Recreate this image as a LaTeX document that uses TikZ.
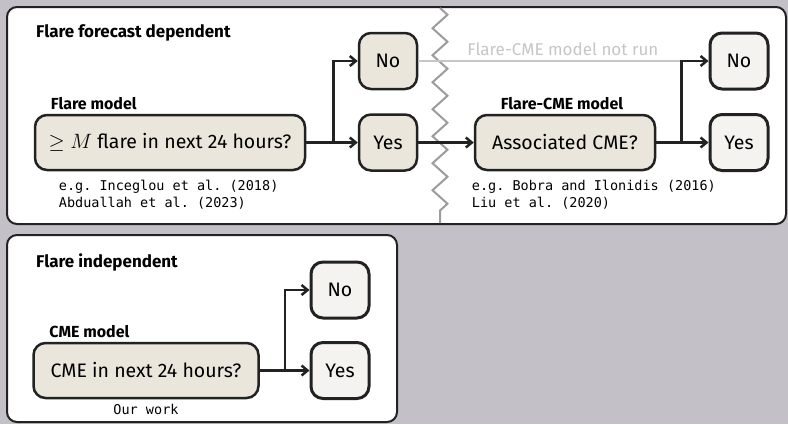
\documentclass[tikz,border=0pt]{standalone}
\usepackage{fontspec}
\setmainfont{Fira Sans}
\setmonofont{DejaVu Sans Mono}
\usepackage{tikz}
\usetikzlibrary{arrows.meta,positioning,calc,decorations.pathmorphing}
\definecolor{bggray}{HTML}{C3C0C8}
\definecolor{edgedark}{HTML}{222222}
\definecolor{modelfill}{HTML}{EAE6DC}
\definecolor{outfill}{HTML}{F4F3EF}
\definecolor{zigzaggray}{HTML}{9C9C9C}
\definecolor{notrungray}{HTML}{C6C6C6}
\begin{document}
\begin{tikzpicture}[
    x=1pt, y=-1pt,
    panel/.style={
        draw=edgedark,
        fill=white,
        rounded corners=10pt,
        line width=2pt
    },
    model/.style={
        rectangle,
        rounded corners=12pt,
        draw=edgedark,
        fill=modelfill,
        text centered,
        inner sep=0pt,
        minimum height=55pt,
        line width=2.5pt,
        font=\fontsize{19.5}{22}\selectfont
    },
    outcome/.style={
        rectangle,
        rounded corners=12pt,
        draw=edgedark,
        fill=modelfill,
        text centered,
        inner sep=0pt,
        minimum width=58pt,
        minimum height=56pt,
        line width=2.5pt,
        font=\fontsize{19.5}{22}\selectfont
    },
    final/.style={outcome, fill=outfill, line width=3pt},
    heading/.style={font=\fontsize{17}{20}\selectfont\bfseries, anchor=west, inner sep=0pt},
    modeltitle/.style={font=\fontsize{16}{19}\selectfont\bfseries, inner sep=0pt},
    refs/.style={font=\fontsize{13.5}{17}\selectfont\ttfamily, align=left, inner sep=0pt},
    arrow/.style={-{Straight Barb[length=6pt,width=10pt]}, line width=2.5pt, edgedark}
]

% === BACKGROUND ===
\fill[bggray] (0,0) rectangle (788,424);
\useasboundingbox (0,0) rectangle (788,424);

% === PANELS ===
\draw[panel] (7,7) rectangle (786,224);
\draw[panel] (7,235) rectangle (397,422);

% break between the two models
\draw[zigzaggray, line width=2pt, decorate,
      decoration={zigzag, segment length=27pt, amplitude=7.5pt}]
    (440,8) -- (440,223);

\node[heading] (dephead) at (36,33) {Flare forecast dependent};
\node[heading] (indhead) at (36,262) {Flare independent};

% === NODES (flare forecast dependent) ===

% Flare model
\node[model, minimum width=270pt] (flare) at (170,142.5) {$\geq M$ flare in next 24 hours?};
\node[modeltitle, anchor=south west] (flaretitle) at ([xshift=17pt, yshift=4pt]flare.north west) {Flare model};
\node[refs, anchor=north west] (flarerefs) at ([xshift=25pt, yshift=-9pt]flare.south west)
    {e.g. Inceglou et al. (2018)\\Abduallah et al. (2023)};

\node[outcome] (no1) at (388,61) {No};
\node[outcome] (yes1) at (388,142.5) {Yes};

% Flare-CME model
\node[model, minimum width=180pt] (flarecme) at (565,142.5) {Associated CME?};
\node[modeltitle, anchor=south] (flarecmetitle) at ([xshift=-3pt, yshift=4pt]flarecme.north) {Flare-CME model};
\node[refs, anchor=north west] (flarecmerefs) at ([xshift=-2pt, yshift=-9pt]flarecme.south west)
    {e.g. Bobra and Ilonidis (2016)\\Liu et al. (2020)};

\node[final] (no2) at (739,61) {No};
\node[final] (yes2) at (739,142.5) {Yes};

% === NODES (flare independent) ===
\node[model, minimum width=225pt] (cme) at (146,370.5) {CME in next 24 hours?};
\node[modeltitle, anchor=south west] (cmetitle) at ([xshift=17pt, yshift=4pt]cme.north west) {CME model};
\node[refs, anchor=north] (cmerefs) at ([yshift=-5pt]cme.south) {Our work};

\node[final] (no3) at (340,290) {No};
\node[final] (yes3) at (340,370.5) {Yes};

% branch points
\coordinate (split1) at ([xshift=27pt]flare.east);
\coordinate (split2) at ([xshift=25pt]flarecme.east);
\coordinate (split3) at ([xshift=25pt]cme.east);

% === ARROWS ===

% 1. Flare model outcomes
\draw[arrow] (flare) -- (yes1);
\draw[arrow] (flare.east) -- (split1) |- (no1.west);

% 2. Flare-CME model not run
\draw[notrungray, line width=2pt] (no1.east) -- (no1.east -| split2)
    node[pos=0.55, above=1pt, font=\fontsize{17}{20}\selectfont, text=notrungray] {Flare-CME model not run};

% 3. Yes goes on to the Flare-CME model
\draw[arrow] (yes1) -- (flarecme);

% 4. Flare-CME model outcomes
\draw[arrow] (flarecme) -- (yes2);
\draw[arrow] (flarecme.east) -- (split2) |- (no2.west);

% 5. CME model outcomes
\draw[arrow] (cme) -- (yes3);
\draw[arrow] (cme.east) -- (split3) |- (no3.west);

\end{tikzpicture}
\end{document}
